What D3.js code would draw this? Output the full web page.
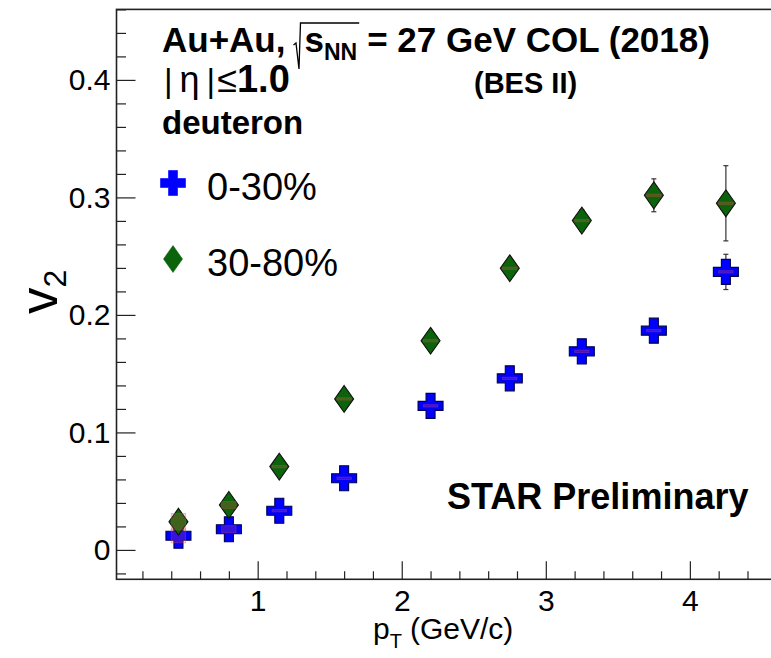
<!DOCTYPE html>
<html>
<head>
<meta charset="utf-8">
<script src="https://cdn.jsdelivr.net/npm/d3@7"></script>
<style>
  body { margin: 0; background: #fff; }
  svg { display: block; }
  text { font-family: "Liberation Sans", Arial, Helvetica, sans-serif; fill: #000; }
</style>
</head>
<body>
<svg id="chart" width="771" height="658"></svg>
<script>
// Deuteron v2 vs pT, Au+Au 27 GeV
const pt = [0.45, 0.8, 1.15, 1.6, 2.2, 2.75, 3.25, 3.75, 4.25];
const v2Central = [0.012, 0.0176, 0.0334, 0.061, 0.1226, 0.146, 0.169, 0.1866, 0.2366];
const statCentral = [0.004, 0.003, 0.003, 0.003, 0.004, 0.005, 0.006, 0.008, 0.015];
const sysCentral = [0.006, 0.003, 0.001, 0.001, 0.001, 0.001, 0.001, 0.001, 0.001];
const v2Peripheral = [0.024, 0.0383, 0.0709, 0.1285, 0.178, 0.2397, 0.2803, 0.3018, 0.295];
const statPeripheral = [0.005, 0.004, 0.004, 0.004, 0.005, 0.007, 0.009, 0.014, 0.032];
const sysPeripheral = [0.007, 0.003, 0.001, 0.001, 0.001, 0.001, 0.001, 0.001, 0.001];
const seriesLabels = ["0-30%", "30-80%"];
const xTicks = [1, 2, 3, 4];
const yTicks = [0, 0.1, 0.2, 0.3, 0.4];
const xMinorTicks = d3.range(1, 24).map(i => +(i * 0.2).toFixed(1)).filter(v => !xTicks.includes(v));
const yMinorTicks = d3.range(-1, 24).map(i => +(i * 0.02).toFixed(2)).filter(v => !yTicks.includes(v));

const svg = d3.select("#chart");
const frame = { left: 116.5, top: 9.4, right: 776.3, bottom: 579.3 };

const x = d3.scaleLinear().domain([0.02, 4.6]).range([frame.left, frame.right]);
const y = d3.scaleLinear().domain([-0.025, 0.46]).range([frame.bottom, frame.top]);

const axisColor = "#222";

// Y axis: major and minor ticks pointing into the frame
const gy = svg.append("g").attr("transform", `translate(${frame.left},0)`);
gy.call(d3.axisLeft(y).tickValues(yTicks).tickSizeInner(-19).tickSizeOuter(0).tickPadding(6)
  .tickFormat(d => d === 0 ? "0" : d3.format(".1f")(d)));
const gyMinor = svg.append("g").attr("transform", `translate(${frame.left},0)`);
gyMinor.call(d3.axisLeft(y).tickValues(yMinorTicks).tickSizeInner(-9.5).tickSizeOuter(0).tickFormat(""));

// X axis
const gx = svg.append("g").attr("transform", `translate(0,${frame.bottom})`);
gx.call(d3.axisBottom(x).tickValues(xTicks).tickSizeInner(-18).tickSizeOuter(0).tickPadding(10)
  .tickFormat(d3.format("d")));
const gxMinor = svg.append("g").attr("transform", `translate(0,${frame.bottom})`);
gxMinor.call(d3.axisBottom(x).tickValues(xMinorTicks).tickSizeInner(-8).tickSizeOuter(0).tickFormat(""));

[gy, gyMinor, gx, gxMinor].forEach(g => {
  g.select(".domain").remove();
  g.selectAll(".tick line").attr("stroke", axisColor).attr("stroke-width", 1.2);
  g.selectAll(".tick text").style("font-size", "30px").style("font-family", "\"Liberation Sans\", Arial, sans-serif").attr("fill", "#000");
});

// Frame
svg.append("rect")
  .attr("x", frame.left).attr("y", frame.top)
  .attr("width", frame.right - frame.left).attr("height", frame.bottom - frame.top)
  .attr("fill", "none").attr("stroke", axisColor).attr("stroke-width", 1.6);

// Sequential text runs (for sub/superscripts and mixed weights)
function runText(g, x0, y0, pieces) {
  let cx = x0;
  const pos = [];
  pieces.forEach(p => {
    if (p.gap !== undefined) { pos.push(cx); cx += p.gap; return; }
    const t = g.append("text")
      .attr("x", cx).attr("y", y0 + (p.dy || 0))
      .style("font-size", p.size + "px")
      .style("font-weight", p.weight || "normal")
      .text(p.text);
    if (p.family) t.style("font-family", p.family);
    pos.push(cx);
    cx += t.node().getComputedTextLength();
  });
  return { pos, end: cx };
}

// Axis titles
runText(svg.append("g"), 373, 639, [
  { text: "p", size: 30 },
  { text: "T", size: 20, dy: 9 },
  { gap: 8 },
  { text: "(GeV/c)", size: 30 }
]);

const yTitle = svg.append("g").attr("transform", "translate(57,314) rotate(-90)");
runText(yTitle, 0, 0, [
  { text: "v", size: 53 },
  { text: "2", size: 32, dy: 9 }
]);

// Header text
const hdr = svg.append("g");
const b1 = 52;
const r1 = runText(hdr, 162, b1, [
  { text: "Au+Au,", size: 35, weight: "bold" },
  { gap: 19 },
  { text: "s", size: 35, weight: "bold" },
  { text: "NN", size: 23, weight: "bold", dy: 8 },
  { gap: 10 },
  { text: "= 27 GeV COL (2018)", size: 35, weight: "bold" }
]);
const rx = r1.pos[1] + 14;
hdr.append("path")
  .attr("d", `M${rx - 6},${b1 - 7} L${rx - 3.5},${b1 - 9} L${rx - 0.5},${b1 + 17} L${rx + 1},${b1 - 29} H${r1.pos[4] + 2}`)
  .attr("fill", "none").attr("stroke", "#000").attr("stroke-width", 1.3);

runText(hdr, 164, 92, [
  { text: "|", size: 33 },
  { gap: 7 },
  { text: "η", size: 36 },
  { gap: 7 },
  { text: "|", size: 33 },
  { gap: 2 },
  { text: "≤", size: 36 },
  { text: "1.0", size: 38, weight: "bold" }
]);
hdr.append("text").attr("x", 474).attr("y", 93)
  .style("font-size", "29px").style("font-weight", "bold").text("(BES II)");
hdr.append("text").attr("x", 162).attr("y", 134)
  .style("font-size", "33px").style("font-weight", "bold").text("deuteron");

svg.append("text").attr("x", 447).attr("y", 509)
  .style("font-size", "36px").style("font-weight", "bold").text("STAR Preliminary");

// Markers
const crossPath = "M-4.5,-12.5H4.5V-4.5H12.5V4.5H4.5V12.5H-4.5V4.5H-12.5V-4.5H-4.5Z";
const diamondPath = "M0,-13.4L9.5,0L0,13.4L-9.5,0Z";
const styles = [
  { path: crossPath, fill: "#0000ff", stroke: "#000050" },
  { path: diamondPath, fill: "#0b640b", stroke: "#111" }
];

const series = [
  { v: v2Central, stat: statCentral, sys: sysCentral, style: styles[0] },
  { v: v2Peripheral, stat: statPeripheral, sys: sysPeripheral, style: styles[1] }
];

const plot = svg.append("g");
series.forEach(s => {
  const pts = pt.map((p, i) => ({ p, v: s.v[i], e: s.stat[i], sys: s.sys[i] }));
  const g = plot.append("g");
  // statistical error bars
  g.selectAll("line.err").data(pts).join("line")
    .attr("x1", d => x(d.p)).attr("x2", d => x(d.p))
    .attr("y1", d => y(d.v - d.e)).attr("y2", d => y(d.v + d.e))
    .attr("stroke", "#333").attr("stroke-width", 1.2);
  ["lo", "hi"].forEach(k => {
    g.selectAll(`line.cap-${k}`).data(pts).join("line")
      .attr("x1", d => x(d.p) - 2.5).attr("x2", d => x(d.p) + 2.5)
      .attr("y1", d => y(k === "lo" ? d.v - d.e : d.v + d.e))
      .attr("y2", d => y(k === "lo" ? d.v - d.e : d.v + d.e))
      .attr("stroke", "#333").attr("stroke-width", 1.2);
  });
  g.selectAll("path.mk").data(pts).join("path")
    .attr("d", s.style.path)
    .attr("transform", d => `translate(${x(d.p)},${y(d.v)})`)
    .attr("fill", s.style.fill).attr("stroke", s.style.stroke).attr("stroke-width", 1.1);
  // systematic boxes
  g.selectAll("rect.sys").data(pts).join("rect")
    .attr("x", d => x(d.p - 0.05)).attr("width", d => x(d.p + 0.05) - x(d.p - 0.05))
    .attr("y", d => y(d.v + d.sys)).attr("height", d => Math.max(0.8, y(d.v - d.sys) - y(d.v + d.sys)))
    .attr("fill", "rgba(255,90,90,0.22)").attr("stroke", "rgba(220,70,70,0.4)").attr("stroke-width", 0.8);
});

// Legend
const legend = svg.append("g");
const legendRows = [{ y: 183 }, { y: 259 }];
legendRows.forEach((r, i) => {
  legend.append("path").attr("d", styles[i].path)
    .attr("transform", `translate(173,${r.y})`)
    .attr("fill", styles[i].fill).attr("stroke", styles[i].fill).attr("stroke-width", 0.6);
  legend.append("text").attr("x", 207).attr("y", r.y + 16.5)
    .style("font-size", "38px").text(seriesLabels[i]);
});
</script>
</body>
</html>
